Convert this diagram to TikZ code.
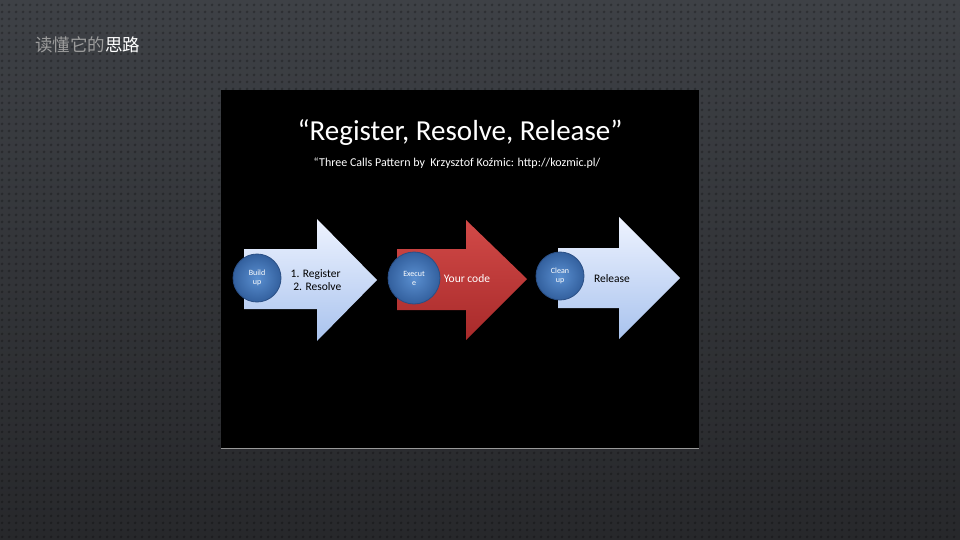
\documentclass[tikz,border=0pt]{standalone}
\usepackage{fontspec}
\usetikzlibrary{patterns.meta}
\setmainfont{Carlito}
\newfontfamily\cjk{Noto Sans CJK SC}
\definecolor{bgtop}{HTML}{3E4146}
\definecolor{bgbot}{HTML}{27282B}
\definecolor{cjkgray}{HTML}{9C9C9C}
\definecolor{arrlight}{HTML}{EEF3FF}
\definecolor{arrblue}{HTML}{A9C3EE}
\definecolor{redtop}{HTML}{D24A48}
\definecolor{redbot}{HTML}{A82A2A}
\definecolor{ballin}{HTML}{5A8FD0}
\definecolor{ballout}{HTML}{33609E}
\definecolor{ballrim}{HTML}{2A4F85}
\tikzdeclarepattern{name=bgdots,type=uncolored,
  bounding box={(0pt,0pt) and (7pt,7pt)},tile size={(7pt,7pt)},
  code={\fill (3.5pt,3.5pt) circle (1.7pt);}}
\begin{document}
\begin{tikzpicture}[x=1pt,y=-1pt,
  balltext/.style={text=white,font=\fontsize{8}{9}\selectfont,align=center},
  arrtext/.style={font=\fontsize{11.5}{13.5}\selectfont,align=left},
  ballstyle/.style={inner color=ballin,outer color=ballout,draw=ballrim,line width=0.8pt},
  lightarrow/.style={top color=arrlight,bottom color=arrblue,draw=none},
  redarrow/.style={top color=redtop,bottom color=redbot,draw=none}]
\useasboundingbox (0,0) rectangle (960,540);
\shade[top color=bgtop,bottom color=bgbot] (0,0) rectangle (960,540);
\fill[pattern=bgdots,pattern color=black,opacity=0.25] (0,0) rectangle (960,540);
\node[anchor=west,inner sep=0pt,font=\cjk\fontsize{17.5}{19}\selectfont] (hdr) at (35,45)
  {\textcolor{cjkgray}{读懂它的}\textcolor{white}{思路}};
% slide
\fill[black] (221,90) rectangle (699,448);
\draw[gray!80,line width=1pt] (221,448) -- (699,448);
\node[text=white,font=\fontsize{29}{32}\selectfont] (title) at (460,133) {“Register, Resolve, Release”};
\node[text=white,font=\fontsize{12}{14}\selectfont] (sub) at (457,163) {“Three Calls Pattern by~~Krzysztof Koźmic: http://kozmic.pl/};
% arrow 1
\shade[lightarrow] (244,249) -- (317,249) -- (317,219) -- (377,280) -- (317,341) -- (317,309) -- (244,309) -- cycle;
\node[ballstyle,circle,minimum size=48pt,inner sep=0pt] (c1) at (257,278) {};
\node[balltext] (t1) at (c1) {Build\\up};
\node[arrtext,text=black] (a1) at (316,280) {1. Register\\~2. Resolve};
% arrow 2
\shade[redarrow] (397,249) -- (466,249) -- (466,220) -- (527,279) -- (466,340) -- (466,310) -- (397,310) -- cycle;
\node[ballstyle,circle,minimum size=52pt,inner sep=0pt] (c2) at (414,278) {};
\node[balltext] (t2) at (c2) {Execut\\e};
\node[arrtext,text=white] (a2) at (467,279) {Your code};
% arrow 3
\shade[lightarrow] (558,248) -- (619,248) -- (619,217) -- (680,278) -- (619,339) -- (619,308) -- (558,308) -- cycle;
\node[ballstyle,circle,minimum size=48pt,inner sep=0pt] (c3) at (560,276) {};
\node[balltext] (t3) at (c3) {Clean\\up};
\node[arrtext,text=black] (a3) at (612,279) {Release};
\end{tikzpicture}
\end{document}
